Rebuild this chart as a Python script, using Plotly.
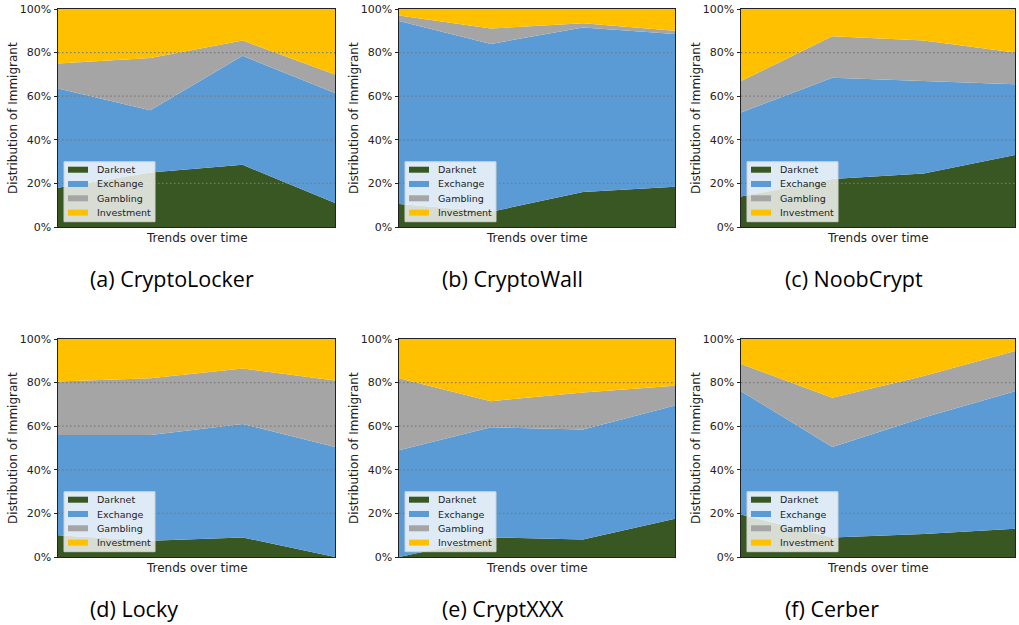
import plotly.graph_objects as go

W, H = 1019, 625

time_points = [0, 1, 2, 3]
categories = ["Darknet", "Exchange", "Gambling", "Investment"]
colors = {"Darknet": "#385723", "Exchange": "#5B9BD5", "Gambling": "#A5A5A5", "Investment": "#FFC000"}

panel_names = ["(a) CryptoLocker", "(b) CryptoWall", "(c) NoobCrypt",
               "(d) Locky", "(e) CryptXXX", "(f) Cerber"]

cryptolocker_darknet = [18, 25, 28.5, 11]
cryptolocker_exchange = [45.5, 28.5, 50, 50.5]
cryptolocker_gambling = [11.5, 24, 7, 8.5]
cryptolocker_investment = [25, 22.5, 14.5, 30]

cryptowall_darknet = [10.5, 7, 16, 18.5]
cryptowall_exchange = [84, 77, 75.5, 70]
cryptowall_gambling = [2.5, 7, 2, 1.5]
cryptowall_investment = [3, 9, 6.5, 10]

noobcrypt_darknet = [14, 22, 24.5, 33]
noobcrypt_exchange = [38.5, 46.5, 42.5, 32.5]
noobcrypt_gambling = [14.5, 19, 18.5, 14.5]
noobcrypt_investment = [33, 12.5, 14.5, 20]

locky_darknet = [10, 7.5, 9, 0]
locky_exchange = [46, 48.5, 52, 50.5]
locky_gambling = [24.5, 26, 25.5, 30.5]
locky_investment = [19.5, 18, 13.5, 19]

cryptxxx_darknet = [0, 9, 8, 17.5]
cryptxxx_exchange = [49, 50.5, 50.5, 52]
cryptxxx_gambling = [33, 12, 17, 9]
cryptxxx_investment = [18, 28.5, 24.5, 21.5]

cerber_darknet = [19.5, 9, 10.5, 13]
cerber_exchange = [56.5, 41.5, 53.5, 63]
cerber_gambling = [12.5, 22.5, 19, 18.5]
cerber_investment = [11.5, 27, 17, 5.5]

panels = [
    [cryptolocker_darknet, cryptolocker_exchange, cryptolocker_gambling, cryptolocker_investment],
    [cryptowall_darknet, cryptowall_exchange, cryptowall_gambling, cryptowall_investment],
    [noobcrypt_darknet, noobcrypt_exchange, noobcrypt_gambling, noobcrypt_investment],
    [locky_darknet, locky_exchange, locky_gambling, locky_investment],
    [cryptxxx_darknet, cryptxxx_exchange, cryptxxx_gambling, cryptxxx_investment],
    [cerber_darknet, cerber_exchange, cerber_gambling, cerber_investment],
]

x_title = "Trends over time"
y_title = "Distribution of Immigrant"

# layout geometry (pixels)
col_left = [58, 399, 741]
col_right = [335, 675, 1015]
row_top = [9, 339]
row_bottom = [227, 557]
caption_x = [88, 440, 783]
caption_y = [278, 608]
YTITLE_OFFSET = 45   # px left of plot area
XTITLE_OFFSET = 11   # px below plot area

# legend geometry (pixels, relative to plot-area left / bottom)
LEG_BOX = (6, 97, 5.3, 65.3)          # x0, x1, y0(from bottom), y1
LEG_PATCH = (10, 30, 3)               # x0, x1, half height
LEG_TEXT_X = 37
LEG_ROWS = [57.3, 43.0, 28.7, 14.4]   # row centers measured from bottom

fig = go.Figure()
layout = dict(width=W, height=H, margin=dict(l=0, r=0, t=0, b=0),
              paper_bgcolor="white", plot_bgcolor="white", showlegend=False)
shapes = []
annotations = []
axis_font = dict(family="DejaVu Sans", size=12, color="#222222")

for i, series in enumerate(panels):
    r, c = divmod(i, 3)
    n = i + 1
    xa = "x" if n == 1 else f"x{n}"
    ya = "y" if n == 1 else f"y{n}"
    for cat, vals in zip(categories, series):
        fig.add_trace(go.Scatter(
            x=time_points, y=vals, name=cat, mode="none",
            stackgroup=f"s{n}", fillcolor=colors[cat],
            xaxis=xa, yaxis=ya, hoverinfo="skip",
        ))
    pw = col_right[c] - col_left[c]
    ph = row_bottom[r] - row_top[r]
    x0 = col_left[c] / W
    x1 = col_right[c] / W
    y0 = 1 - row_bottom[r] / H
    y1 = 1 - row_top[r] / H
    xkey = "xaxis" if n == 1 else f"xaxis{n}"
    ykey = "yaxis" if n == 1 else f"yaxis{n}"
    layout[xkey] = dict(domain=[x0, x1], anchor=ya, range=[0, 3], showticklabels=False,
                        ticks="", showgrid=False, zeroline=False, showline=True,
                        linecolor="#222222", linewidth=1, mirror=True, automargin=False)
    layout[ykey] = dict(domain=[y0, y1], anchor=xa, range=[0, 100],
                        tickvals=[0, 20, 40, 60, 80, 100],
                        ticktext=["0%", "20%", "40%", "60%", "80%", "100%"],
                        ticks="outside", ticklen=3.5, tickcolor="#222222",
                        tickfont=dict(family="DejaVu Sans", size=11, color="#222222"),
                        showgrid=False, zeroline=False, showline=True,
                        linecolor="#222222", linewidth=1, mirror=True, automargin=False)
    xd = f"{xa} domain"
    yd = f"{ya} domain"
    for gv in [20, 40, 60, 80]:
        shapes.append(dict(type="line", xref=xd, yref=ya, x0=0, x1=1, y0=gv, y1=gv,
                           line=dict(color="rgba(120,120,120,0.9)", width=1.2, dash="1.5px,2.5px"),
                           layer="above"))
    # legend box
    shapes.append(dict(type="rect", xref=xd, yref=yd,
                       x0=LEG_BOX[0] / pw, x1=LEG_BOX[1] / pw,
                       y0=LEG_BOX[2] / ph, y1=LEG_BOX[3] / ph,
                       fillcolor="rgba(255,255,255,0.8)", line=dict(color="#d0d0d0", width=1),
                       layer="above"))
    for cat, yc in zip(categories, LEG_ROWS):
        shapes.append(dict(type="rect", xref=xd, yref=yd,
                           x0=LEG_PATCH[0] / pw, x1=LEG_PATCH[1] / pw,
                           y0=(yc - LEG_PATCH[2]) / ph, y1=(yc + LEG_PATCH[2]) / ph,
                           fillcolor=colors[cat], line=dict(width=0), layer="above"))
        annotations.append(dict(text=cat, xref=xd, yref=yd, x=LEG_TEXT_X / pw, y=yc / ph,
                                xanchor="left", yanchor="middle", showarrow=False,
                                font=dict(family="DejaVu Sans", size=9.5, color="#222222")))
    # axis titles
    annotations.append(dict(text=x_title, xref="paper", yref="paper",
                            x=(col_left[c] + col_right[c]) / 2 / W,
                            y=1 - (row_bottom[r] + XTITLE_OFFSET) / H,
                            xanchor="center", yanchor="middle", showarrow=False, font=axis_font))
    annotations.append(dict(text=y_title, xref="paper", yref="paper", textangle=-90,
                            x=(col_left[c] - YTITLE_OFFSET) / W,
                            y=1 - (row_top[r] + row_bottom[r]) / 2 / H,
                            xanchor="center", yanchor="middle", showarrow=False, font=axis_font))
    annotations.append(dict(text=panel_names[i], xref="paper", yref="paper",
                            x=caption_x[c] / W, y=1 - caption_y[r] / H,
                            xanchor="left", yanchor="middle", showarrow=False,
                            font=dict(family="Open Sans", size=21.5, color="black")))

layout["shapes"] = shapes
layout["annotations"] = annotations
fig.update_layout(**layout)
fig.write_html("out.html", config={"displayModeBar": False},
               post_script="document.body.style.margin='0';document.body.style.padding='0';"
                           "document.body.style.overflow='hidden';")
